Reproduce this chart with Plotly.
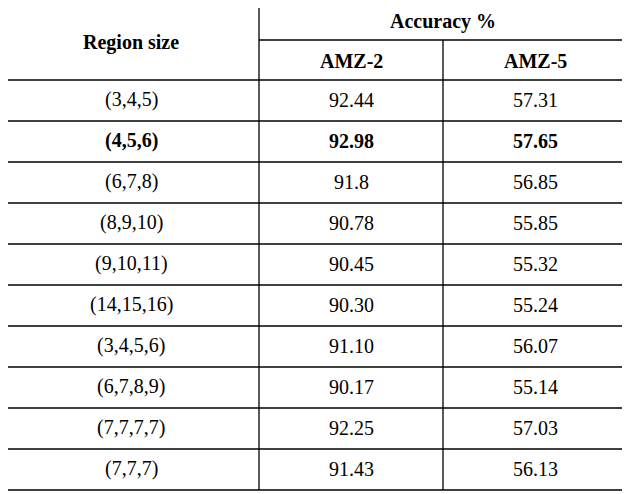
import plotly.graph_objects as go

regions = ["(3,4,5)", "(4,5,6)", "(6,7,8)", "(8,9,10)", "(9,10,11)", "(14,15,16)",
           "(3,4,5,6)", "(6,7,8,9)", "(7,7,7,7)", "(7,7,7)"]
amz2 = ["92.44", "92.98", "91.8", "90.78", "90.45", "90.30", "91.10", "90.17", "92.25", "91.43"]
amz5 = ["57.31", "57.65", "56.85", "55.85", "55.32", "55.24", "56.07", "55.14", "57.03", "56.13"]
bold_row = 1

X0, X1, X2, X3 = 3, 259, 443, 627
Y0, YM, YH = 1, 40, 80
RH = 41.0
n = len(regions)
Y_END = YH + RH * n

fig = go.Figure()
shapes = []
line = dict(color="black", width=1.3)
shapes.append(dict(type="rect", x0=X0, x1=X3, y0=Y0, y1=Y_END, line=dict(color="black", width=1.5)))
shapes.append(dict(type="line", x0=X1, x1=X1, y0=Y0, y1=Y_END, line=line))
shapes.append(dict(type="line", x0=X2, x1=X2, y0=YM, y1=Y_END, line=line))
shapes.append(dict(type="line", x0=X1, x1=X3, y0=YM, y1=YM, line=line))
for i in range(n):
    y = YH + RH * i
    shapes.append(dict(type="line", x0=X0, x1=X3, y0=y, y1=y, line=line))

font = dict(family="Liberation Serif", size=20, color="black")
ann = []
def t(x, y, s, bold=False):
    ann.append(dict(x=x, y=y, text=f"<b>{s}</b>" if bold else s, showarrow=False,
                    xref="x", yref="y", font=font, xanchor="center", yanchor="middle"))

t((X0 + X1) / 2, (Y0 + YH) / 2 + 2, "Region size", True)
t((X1 + X3) / 2, (Y0 + YM) / 2 + 1, "Accuracy %", True)
t((X1 + X2) / 2, (YM + YH) / 2 + 1, "AMZ-2", True)
t((X2 + X3) / 2, (YM + YH) / 2 + 1, "AMZ-5", True)
for i in range(n):
    yc = YH + RH * i + RH / 2 - 1
    b = i == bold_row
    t((X0 + X1) / 2, yc, regions[i], b)
    t((X1 + X2) / 2, yc, amz2[i], b)
    t((X2 + X3) / 2, yc, amz5[i], b)

# page body has an 8px margin; offset ranges so coordinates equal window pixels
OFF = 8
fig.update_layout(width=630, height=494, margin=dict(l=0, r=0, t=0, b=0),
                  plot_bgcolor="white", paper_bgcolor="white",
                  shapes=shapes, annotations=ann, showlegend=False,
                  xaxis=dict(range=[OFF, 630 + OFF], visible=False, fixedrange=True),
                  yaxis=dict(range=[494 + OFF, OFF], visible=False, fixedrange=True))
fig.write_html("out.html")
